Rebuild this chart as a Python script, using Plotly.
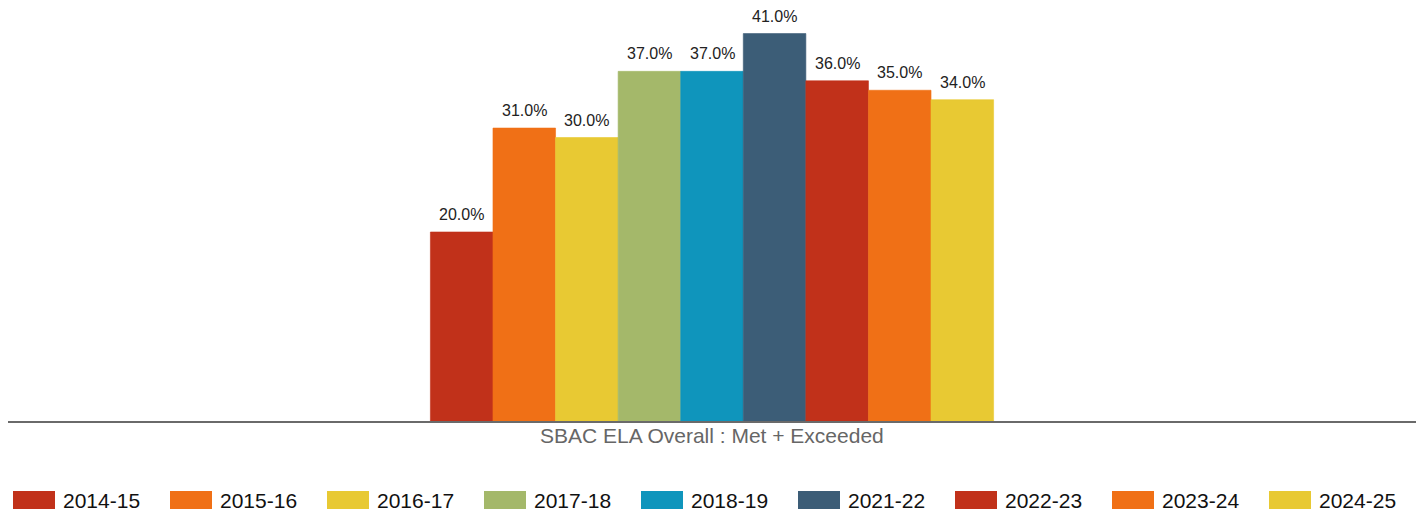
import plotly.graph_objects as go

# SBAC ELA results, percent of students who met or exceeded the standard
category = "SBAC ELA Overall : Met + Exceeded"
years = ["2014-15", "2015-16", "2016-17", "2017-18", "2018-19",
         "2021-22", "2022-23", "2023-24", "2024-25"]
values = [20.0, 31.0, 30.0, 37.0, 37.0, 41.0, 36.0, 35.0, 34.0]
colors = ["#C1311A", "#F07016", "#E8C933", "#A4B86A", "#0F95BC",
          "#3C5D77", "#C1311A", "#F07016", "#E8C933"]

W, H = 1422, 512
ML, MR, MT, MB = 8, 6, 10, 91
PW, PH = W - ML - MR, H - MT - MB
FONT = "Liberation Sans, Arial, sans-serif"
BARGAP = 0.6

fig = go.Figure()
for yr, v, c in zip(years, values, colors):
    fig.add_trace(go.Bar(x=[category], y=[v], name=yr,
                         marker=dict(color=c, line=dict(width=0.6, color=c)),
                         showlegend=False))

# value labels above each bar of the group
n = len(years)
group_w = 1 - BARGAP
annotations = []
for i, v in enumerate(values):
    xc = -group_w / 2 + group_w * (i + 0.5) / n
    annotations.append(dict(x=xc, y=v, xref="x", yref="y", text=f"{v:.1f}%",
                            showarrow=False, yanchor="bottom", yshift=7,
                            font=dict(family=FONT, size=16, color="#222222")))

# category caption under the axis line
annotations.append(dict(x=category, y=0, xref="x", yref="paper", text=category,
                        showarrow=False, yanchor="top", yshift=-1,
                        font=dict(family=FONT, size=21, color="#666666")))

# legend row drawn as wide swatches with labels
def px_to_paper_x(px):
    return (px - ML) / PW

def px_to_paper_y(py):
    return (MT + PH - py) / PH

shapes = []
for i, (yr, c) in enumerate(zip(years, colors)):
    x0 = 13 + 157 * i
    shapes.append(dict(type="rect", xref="paper", yref="paper",
                       x0=px_to_paper_x(x0), x1=px_to_paper_x(x0 + 42),
                       y0=px_to_paper_y(509), y1=px_to_paper_y(491),
                       fillcolor=c, line=dict(width=0)))
    annotations.append(dict(x=px_to_paper_x(x0 + 48), y=px_to_paper_y(500),
                            xref="paper", yref="paper", text=yr,
                            showarrow=False, xanchor="left", yanchor="middle",
                            font=dict(family=FONT, size=21, color="#111111")))

fig.update_layout(
    width=W, height=H,
    margin=dict(l=ML, r=MR, t=MT, b=MB, pad=0),
    paper_bgcolor="white", plot_bgcolor="white",
    barmode="group", bargap=BARGAP, bargroupgap=0,
    showlegend=False,
    font=dict(family=FONT),
    xaxis=dict(type="category", showline=True, linecolor="#6A6A6A",
               linewidth=2, ticks="", showgrid=False, zeroline=False,
               showticklabels=False, fixedrange=True),
    yaxis=dict(range=[0, PH / 9.45], visible=False, showgrid=False,
               zeroline=False, fixedrange=True),
    shapes=shapes,
    annotations=annotations,
)

fig.write_html("out.html")
